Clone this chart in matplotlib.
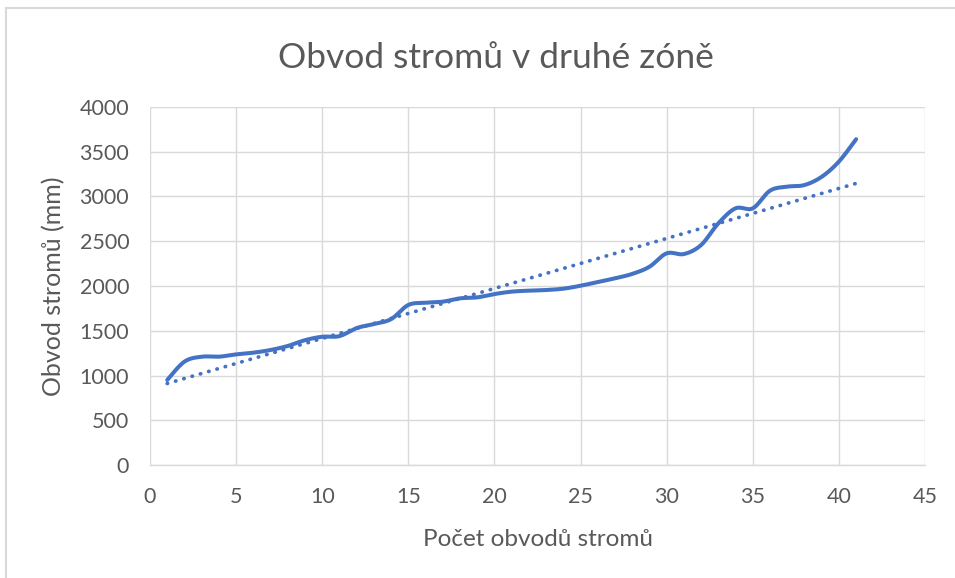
import numpy as np
import matplotlib
matplotlib.use("Agg")
import matplotlib.pyplot as plt
from matplotlib.lines import Line2D

x_vals = list(range(1, 42))
obvod = [950, 1155, 1210, 1210, 1236, 1255, 1285, 1330, 1395, 1433,
         1440, 1530, 1575, 1630, 1788, 1813, 1825, 1862, 1873, 1910,
         1937, 1948, 1955, 1970, 2003, 2045, 2086, 2135, 2215, 2365,
         2357, 2458, 2700, 2868, 2868, 3065, 3110, 3128, 3220, 3390, 3640]

title = "Obvod stromů v druhé zóně"
xlabel = "Počet obvodů stromů"
ylabel = "Obvod stromů (mm)"
xticks = [0, 5, 10, 15, 20, 25, 30, 35, 40, 45]
yticks = [0, 500, 1000, 1500, 2000, 2500, 3000, 3500, 4000]

plt.rcParams['font.family'] = ['Lato', 'DejaVu Sans']


def smooth(x, y, n=20):
    # Catmull-Rom style Bezier smoothing (like Excel smoothed lines)
    x = np.asarray(x, float)
    y = np.asarray(y, float)
    P = np.column_stack([x, y])
    out = []
    N = len(P)
    for i in range(N - 1):
        p0 = P[i - 1] if i > 0 else P[i]
        p1 = P[i]
        p2 = P[i + 1]
        p3 = P[i + 2] if i + 2 < N else P[i + 1]
        c1 = p1 + (p2 - p0) / 6.0
        c2 = p2 - (p3 - p1) / 6.0
        t = np.linspace(0, 1, n, endpoint=(i == N - 2))[:, None]
        b = ((1 - t) ** 3) * p1 + 3 * ((1 - t) ** 2) * t * c1 + 3 * (1 - t) * t ** 2 * c2 + t ** 3 * p2
        out.append(b)
    out = np.vstack(out)
    return out[:, 0], out[:, 1]


W, H = 955, 578
fig = plt.figure(figsize=(W / 100, H / 100), dpi=100)
ax = fig.add_axes([150 / W, 1 - 465 / H, 775 / W, 358 / H])

blue = "#4472C4"
grid = "#D9D9D9"
txt = "#595959"

sx, sy = smooth(x_vals, obvod)
ax.plot(sx, sy, color=blue, lw=2.9, solid_capstyle='round', zorder=3)

coef = np.polyfit(x_vals, obvod, 1)
tx = np.array([x_vals[0], x_vals[-1]])
ax.plot(tx, np.polyval(coef, tx), color=blue, lw=2.7, linestyle=(0, (0.1, 2.2)),
        dash_capstyle='round', zorder=2)

ax.set_xlim(0, 45)
ax.set_ylim(0, 4000)
ax.set_xticks(xticks)
ax.set_yticks(yticks)
ax.grid(True, color=grid, lw=1.0)
ax.set_axisbelow(True)
for s in ['top', 'right', 'left']:
    ax.spines[s].set_visible(False)
ax.spines['bottom'].set_color(grid)
ax.spines['bottom'].set_linewidth(1.0)
ax.tick_params(length=0, colors=txt, labelsize=15.5)
ax.tick_params(axis='x', pad=16)
ax.tick_params(axis='y', pad=15)

ax.set_xlabel(xlabel, color=txt, fontsize=17.5, labelpad=16)
ax.set_ylabel(ylabel, color=txt, fontsize=18, labelpad=10)
fig.text(496 / W, 1 - 58 / H, title, ha='center', va='center', color=txt, fontsize=25.5)

# chart border (left and top visible)
fig.add_artist(Line2D([5.5 / W, 5.5 / W], [0, 1 - 7.5 / H], transform=fig.transFigure, color=grid, lw=1.5))
fig.add_artist(Line2D([5.5 / W, 1], [1 - 7.5 / H, 1 - 7.5 / H], transform=fig.transFigure, color=grid, lw=1.5))

fig.savefig("out.png", dpi=100, facecolor="white")
